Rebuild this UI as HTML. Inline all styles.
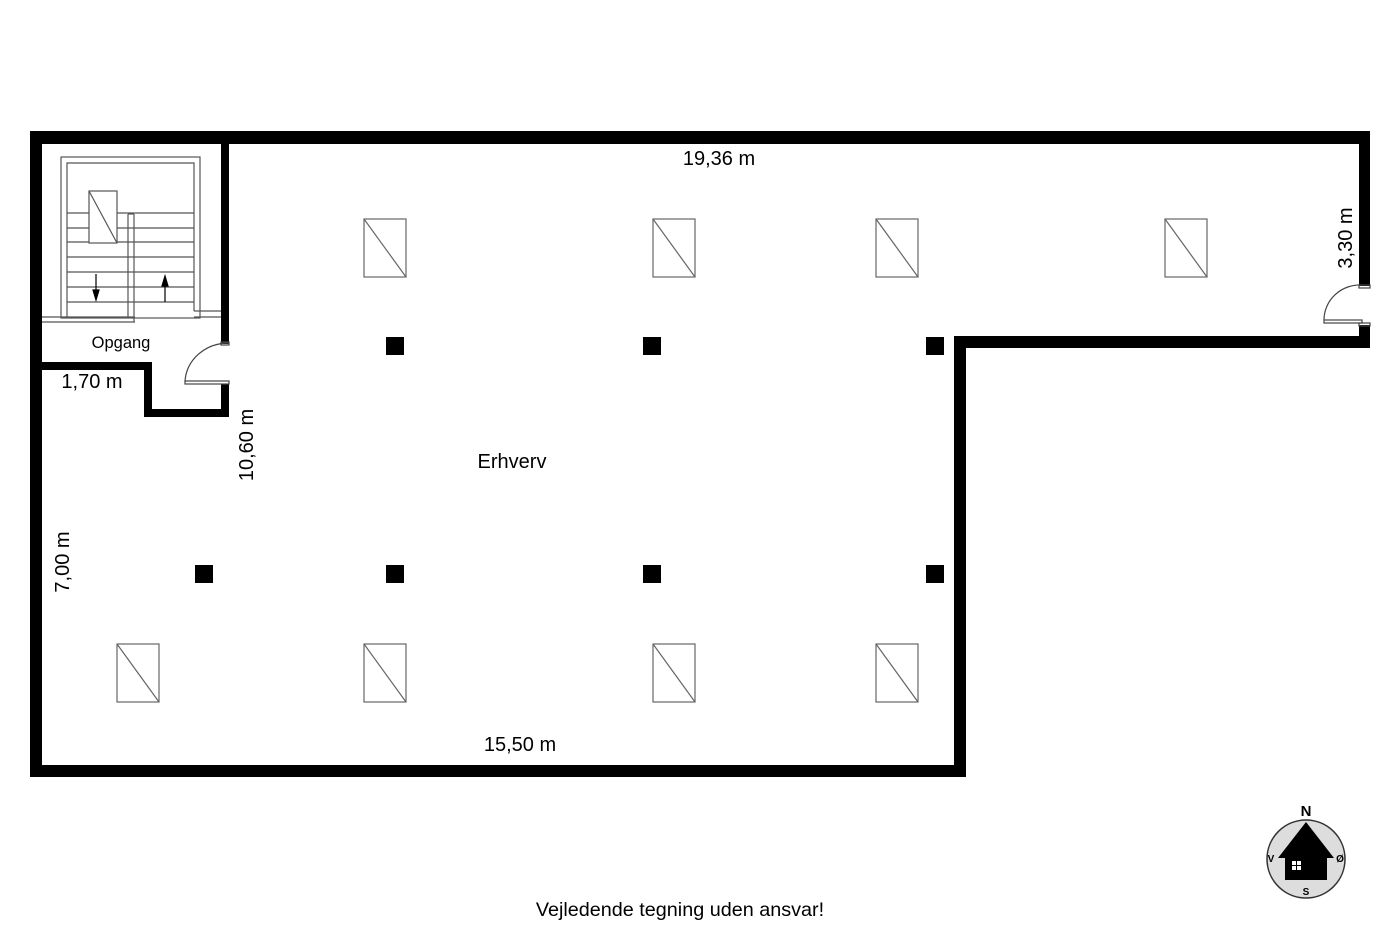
<!DOCTYPE html>
<html><head><meta charset="utf-8"><style>
html,body{margin:0;padding:0;background:#fff;}
svg{display:block;}
text{font-family:"Liberation Sans",Arial,sans-serif;fill:#000;}
</style></head><body>
<svg width="1400" height="933" viewBox="0 0 1400 933" xmlns="http://www.w3.org/2000/svg">
<g fill="#000">
<rect x="30" y="131" width="1340" height="13"/>
<rect x="30" y="131" width="12" height="646"/>
<rect x="30" y="765" width="936" height="12"/>
<rect x="954" y="336" width="12" height="441"/>
<rect x="954" y="336" width="416" height="12"/>
<rect x="1359" y="131" width="11" height="155"/>
<rect x="1359" y="325" width="11" height="23"/>
<rect x="221" y="143" width="8" height="201"/>
<rect x="221" y="384" width="8" height="33"/>
<rect x="42" y="362" width="110" height="8"/>
<rect x="144" y="362" width="8" height="55"/>
<rect x="144" y="409" width="85" height="8"/>
<rect x="386" y="337" width="18" height="18"/>
<rect x="643" y="337" width="18" height="18"/>
<rect x="926" y="337" width="18" height="18"/>
<rect x="195" y="565" width="18" height="18"/>
<rect x="386" y="565" width="18" height="18"/>
<rect x="643" y="565" width="18" height="18"/>
<rect x="926" y="565" width="18" height="18"/>
</g>
<g fill="none" stroke="#555" stroke-width="1.2">
<rect x="61" y="157" width="139" height="161"/>
<polyline points="67,317 67,163 194,163 194,311"/>
<line x1="42" y1="317" x2="135" y2="317"/>
<line x1="42" y1="322" x2="135" y2="322"/>
<line x1="194" y1="311" x2="221" y2="311"/>
<line x1="194" y1="317" x2="221" y2="317"/>
<line x1="128" y1="214" x2="128" y2="317"/>
<line x1="134" y1="214" x2="134" y2="322"/>
<line x1="128" y1="214" x2="134" y2="214"/>
<line x1="67" y1="213" x2="194" y2="213"/>
<line x1="67" y1="228" x2="194" y2="228"/>
<line x1="67" y1="242" x2="194" y2="242"/>
<line x1="67" y1="257" x2="194" y2="257"/>
<line x1="67" y1="272" x2="194" y2="272"/>
<line x1="67" y1="287" x2="194" y2="287"/>
<line x1="67" y1="302" x2="194" y2="302"/>
<rect x="89" y="191" width="28" height="52" fill="#fff"/>
<line x1="89" y1="191" x2="117" y2="243"/>
</g>
<g stroke="#000" stroke-width="1.2" fill="#000">
<line x1="96" y1="274" x2="96" y2="294"/>
<polygon points="93,290 99,290 96,300"/>
<line x1="165" y1="302" x2="165" y2="282"/>
<polygon points="162,286 168,286 165,276"/>
</g>
<g fill="none" stroke="#666" stroke-width="1.2">
<rect x="364" y="219" width="42" height="58"/><line x1="364" y1="219" x2="406" y2="277"/>
<rect x="653" y="219" width="42" height="58"/><line x1="653" y1="219" x2="695" y2="277"/>
<rect x="876" y="219" width="42" height="58"/><line x1="876" y1="219" x2="918" y2="277"/>
<rect x="1165" y="219" width="42" height="58"/><line x1="1165" y1="219" x2="1207" y2="277"/>
<rect x="117" y="644" width="42" height="58"/><line x1="117" y1="644" x2="159" y2="702"/>
<rect x="364" y="644" width="42" height="58"/><line x1="364" y1="644" x2="406" y2="702"/>
<rect x="653" y="644" width="42" height="58"/><line x1="653" y1="644" x2="695" y2="702"/>
<rect x="876" y="644" width="42" height="58"/><line x1="876" y1="644" x2="918" y2="702"/>
</g>
<g fill="none" stroke="#444" stroke-width="1.2">
<path d="M185,382 A44,40 0 0 1 229,343"/>
<rect x="185" y="381" width="44" height="3"/>
<rect x="221" y="342" width="8" height="3"/>
<path d="M1324,320 A36,35 0 0 1 1362,285"/>
<rect x="1324" y="320" width="38" height="3"/>
<rect x="1359" y="285" width="11" height="3"/>
<rect x="1359" y="323" width="11" height="3"/>
</g>
<text x="719" y="165" font-size="20" text-anchor="middle">19,36 m</text>
<text x="0" y="0" font-size="20" text-anchor="middle" transform="translate(1352,238) rotate(-90)">3,30 m</text>
<text x="121" y="348" font-size="16.5" text-anchor="middle">Opgang</text>
<text x="92" y="388" font-size="20" text-anchor="middle">1,70 m</text>
<text x="0" y="0" font-size="20" text-anchor="middle" transform="translate(253,445) rotate(-90)">10,60 m</text>
<text x="512" y="468" font-size="20" text-anchor="middle">Erhverv</text>
<text x="0" y="0" font-size="20" text-anchor="middle" transform="translate(69,562) rotate(-90)">7,00 m</text>
<text x="520" y="751" font-size="20" text-anchor="middle">15,50 m</text>
<text x="680" y="916" font-size="19.8" text-anchor="middle">Vejledende tegning uden ansvar!</text>
<circle cx="1306" cy="859" r="39" fill="#ddd" stroke="#333" stroke-width="1.5"/>
<polygon points="1306,822 1334,858 1327,858 1327,880 1285,880 1285,858 1278,858" fill="#000"/>
<g fill="#fff"><rect x="1292" y="861" width="4" height="4"/><rect x="1297" y="861" width="4" height="4"/><rect x="1292" y="866" width="4" height="4"/><rect x="1297" y="866" width="4" height="4"/></g>
<text x="1306" y="816" font-size="15" font-weight="bold" text-anchor="middle">N</text>
<text x="1271" y="862" font-size="10" font-weight="bold" text-anchor="middle">V</text>
<text x="1340" y="862" font-size="10" font-weight="bold" text-anchor="middle">Ø</text>
<text x="1306" y="895" font-size="10" font-weight="bold" text-anchor="middle">S</text>
</svg>
</body></html>
